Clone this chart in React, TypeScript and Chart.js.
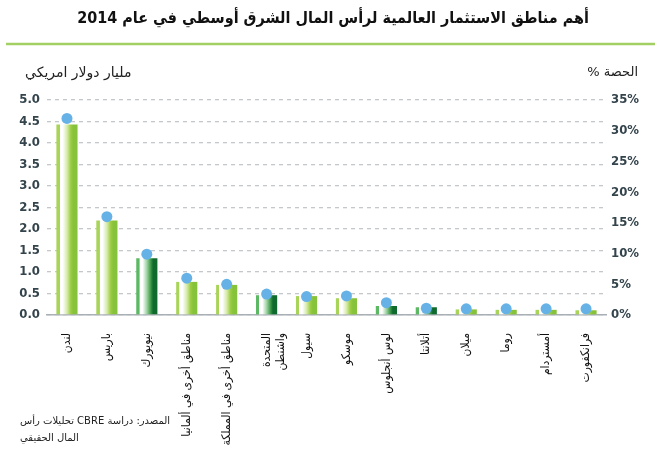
import React, { useEffect, useRef } from "react";
import { Chart, registerables } from "chart.js";

Chart.register(...registerables);

const CATEGORIES: (string | string[])[] = [
  "لندن",
  "باريس",
  "نيويورك",
  "مناطق أخرى في ألمانيا",
  "مناطق أخرى في المملكة",
  ["المتحدة", "واشنطن"],
  "سيول",
  "موسكو",
  "لوس أنجلوس",
  "أتلانتا",
  "ميلان",
  "روما",
  "أمستردام",
  "فرانكفورت",
];

// Investment, billion USD (left axis)
const INVESTMENT = [4.43, 2.2, 1.32, 0.77, 0.7, 0.46, 0.44, 0.39, 0.21, 0.18, 0.13, 0.12, 0.12, 0.11];
// Share, % (right axis)
const SHARE = [32, 16, 9.9, 6.0, 5.0, 3.4, 3.0, 3.1, 2.0, 1.1, 1.0, 1.0, 1.0, 1.0];
// US cities are shown in dark green
const US_CITY = [false, false, true, false, false, true, false, false, true, true, false, false, false, false];

const LEFT_TICK_MAX = 5;
const LEFT_STEP = 0.5;
const RIGHT_TICK_MAX = 35;
const RIGHT_STEP = 5;

const TITLE = "أهم مناطق الاستثمار العالمية لرأس المال الشرق أوسطي في عام 2014";
const LEFT_AXIS_TITLE = "مليار دولار امريكي";
const RIGHT_AXIS_TITLE = "الحصة %";
const SOURCE_LINES = ["المصدر: دراسة CBRE تحليلات رأس", "المال الحقيقي"];

const BAR_PCT = 0.53;

function barFill(c: any) {
  const chart = c.chart;
  const us = US_CITY[c.dataIndex];
  const stripe = us ? "#5cb862" : "#a8d458";
  const mid = us ? "#3f9a4a" : "#9ccc45";
  const main = us ? "#0f6a2e" : "#86c33a";
  const xs = chart.scales && chart.scales.x;
  if (!xs || !chart.chartArea) return main;
  const cx = xs.getPixelForValue(c.dataIndex);
  const w = (xs.width / CATEGORIES.length) * BAR_PCT;
  const x0 = cx - w / 2;
  const x1 = cx + w / 2;
  if (!isFinite(x0) || !isFinite(x1) || x1 <= x0) return main;
  const g = chart.ctx.createLinearGradient(x0, 0, x1, 0);
  g.addColorStop(0, stripe);
  g.addColorStop(0.15, stripe);
  g.addColorStop(0.16, "#ffffff");
  g.addColorStop(0.3, "#ffffff");
  g.addColorStop(0.5, us ? "#9fd3a3" : "#d6ebaa");
  g.addColorStop(0.68, mid);
  g.addColorStop(0.8, main);
  g.addColorStop(1, main);
  return g;
}

const decorPlugin = {
  id: "decor",
  afterDraw(chart: any) {
    const ctx = chart.ctx;
    ctx.save();
    // title
    ctx.direction = "rtl";
    ctx.fillStyle = "#111";
    ctx.font = "bold 16px 'DejaVu Sans Condensed', 'DejaVu Sans', sans-serif";
    ctx.textAlign = "center";
    ctx.textBaseline = "middle";
    ctx.fillText(TITLE, 333, 19);
    // green rule
    ctx.strokeStyle = "#a3d063";
    ctx.lineWidth = 2.5;
    ctx.beginPath();
    ctx.moveTo(6, 44);
    ctx.lineTo(655, 44);
    ctx.stroke();
    // axis titles
    ctx.fillStyle = "#222";
    ctx.font = "14px 'DejaVu Sans', sans-serif";
    ctx.textAlign = "left";
    ctx.fillText(LEFT_AXIS_TITLE, 25, 73);
    ctx.font = "13px 'DejaVu Sans', sans-serif";
    ctx.textAlign = "right";
    ctx.fillText(RIGHT_AXIS_TITLE, 638, 73);
    // source
    ctx.direction = "rtl";
    ctx.textAlign = "left";
    ctx.font = "10px 'DejaVu Sans', sans-serif";
    ctx.fillStyle = "#222";
    ctx.fillText(SOURCE_LINES[0], 20, 421);
    ctx.fillText(SOURCE_LINES[1], 20, 438);
    ctx.restore();
  },
};

const tickFont = { family: "'Liberation Sans Narrow', 'DejaVu Sans Condensed', sans-serif", size: 13, weight: "bold" as const };

export default function App() {
  const ref = useRef<HTMLCanvasElement | null>(null);

  useEffect(() => {
    if (!ref.current) return;
    const chart = new Chart(ref.current, {
      data: {
        labels: CATEGORIES,
        datasets: [
          {
            type: "line",
            label: "الحصة %",
            data: SHARE,
            yAxisID: "y1",
            showLine: false,
            pointRadius: 5.5,
            pointHoverRadius: 5.5,
            pointBackgroundColor: "#66b2e6",
            pointBorderWidth: 0,
            borderColor: "#66b2e6",
          },
          {
            type: "bar",
            label: "مليار دولار امريكي",
            data: INVESTMENT,
            yAxisID: "y",
            backgroundColor: barFill as any,
            borderWidth: 0,
            barPercentage: BAR_PCT,
            categoryPercentage: 1,
          },
        ],
      } as any,
      options: {
        animation: false,
        responsive: true,
        maintainAspectRatio: false,
        layout: { padding: { top: 100, left: 0, right: 0, bottom: 0 } },
        plugins: { legend: { display: false }, tooltip: { enabled: false } },
        scales: {
          x: {
            type: "category",
            grid: { display: false, drawTicks: false },
            border: { display: true, color: "#a9b0b5", width: 1.5 },
            ticks: {
              autoSkip: false,
              minRotation: 90,
              maxRotation: 90,
              padding: 18,
              color: "#111",
              font: { family: "'DejaVu Sans Condensed', 'DejaVu Sans', sans-serif", size: 12 },
            },
            afterFit: (s: any) => {
              s.height = 135;
            },
          },
          y: {
            position: "left",
            min: 0,
            max: LEFT_TICK_MAX,
            grid: { color: "#c4c8cb", lineWidth: 1.3, drawTicks: false },
            border: { display: false, dash: [4, 4] },
            ticks: {
              stepSize: LEFT_STEP,
              padding: 7,
              color: "#34444c",
              font: tickFont,
              callback: (v: any) => Number(v).toFixed(1),
            },
            afterFit: (s: any) => {
              s.width = 47;
            },
          },
          y1: {
            position: "right",
            min: 0,
            max: RIGHT_TICK_MAX,
            grid: { display: false, drawTicks: false },
            border: { display: false },
            ticks: {
              stepSize: RIGHT_STEP,
              padding: 5,
              color: "#34444c",
              font: tickFont,
              callback: (v: any) => `${v}%`,
            },
            afterFit: (s: any) => {
              s.width = 54;
            },
          },
        },
      },
      plugins: [decorPlugin],
    } as any);
    return () => chart.destroy();
  }, []);

  return (
    <div style={{ position: "absolute", left: 0, top: 0, width: 660, height: 450, background: "#fff" }}>
      <canvas ref={ref} />
    </div>
  );
}
